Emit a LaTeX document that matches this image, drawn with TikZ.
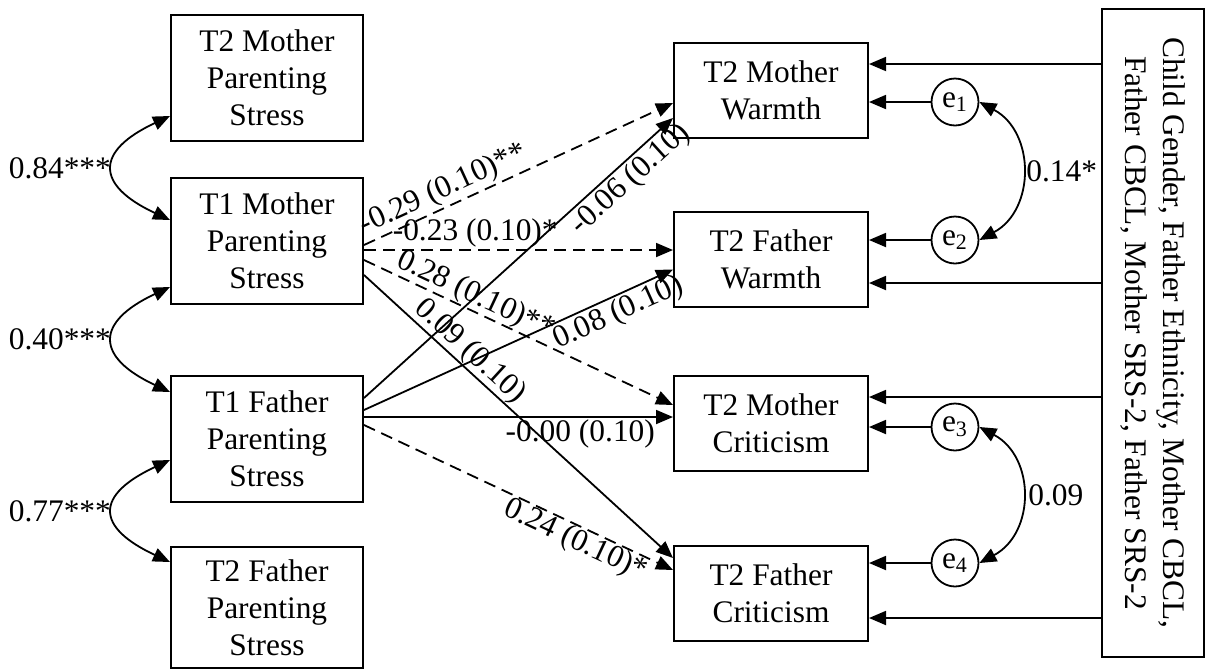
\documentclass[tikz,border=0pt]{standalone}
\usepackage{fontspec}
\setmainfont{Liberation Serif}
\usetikzlibrary{arrows.meta,calc}
\begin{document}
\begin{tikzpicture}[x=0.5pt,y=-0.5pt,
  font=\fontsize{15.7}{18.5}\selectfont,
  box/.style={draw,line width=1pt,align=center,inner sep=0pt},
  lbox/.style={box,minimum width=96pt,minimum height=63pt},
  rbox/.style={box,minimum width=97pt,minimum height=47.5pt},
  err/.style={draw,circle,line width=0.9pt,minimum size=23.5pt,inner sep=0pt},
  tip/.tip={Triangle[length=8.5pt,width=7pt]},
  arr/.style={-tip,line width=0.9pt},
  dsh/.style={arr,dash pattern=on 6pt off 3.5pt},
  dbl/.style={tip-tip,line width=0.9pt},
  lab/.style={inner sep=1pt,sloped}
]
\useasboundingbox (0,0) rectangle (1206,670);

% left boxes
\node[lbox] (LA) at (267,77.5) {T2 Mother\\Parenting\\Stress};
\node[lbox] (LB) at (267,241) {T1 Mother\\Parenting\\Stress};
\node[lbox] (LC) at (267,439) {T1 Father\\Parenting\\Stress};
\node[lbox,minimum height=60.5pt] (LD) at (267,607.5) {T2 Father\\Parenting\\Stress};

% right boxes
\node[rbox] (RA) at (771,90) {T2 Mother\\Warmth};
\node[rbox] (RB) at (771,259.5) {T2 Father\\Warmth};
\node[rbox] (RC) at (771,423.5) {T2 Mother\\Criticism};
\node[rbox] (RD) at (771,593.5) {T2 Father\\Criticism};

% covariates box
\node[draw,line width=1pt,rotate=-90,minimum width=324pt,minimum height=51pt,
      align=center,inner sep=0pt,font=\fontsize{15.7}{19}\selectfont] (cov) at (1153,333)
  {Child Gender, Father Ethnicity, Mother CBCL,\\Father CBCL, Mother SRS-2, Father SRS-2};

% error terms
\node[err] (e1) at (955,102) {e\textsubscript{1}};
\node[err] (e2) at (955,240) {e\textsubscript{2}};
\node[err] (e3) at (955,427) {e\textsubscript{3}};
\node[err] (e4) at (955,563) {e\textsubscript{4}};

\draw[arr] (e1.west) -- (e1.west -| RA.east);
\draw[arr] (e2.west) -- (e2.west -| RB.east);
\draw[arr] (e3.west) -- (e3.west -| RC.east);
\draw[arr] (e4.west) -- (e4.west -| RD.east);

% covariate arrows
\coordinate (c1) at (0,64);
\coordinate (c2) at (0,283);
\coordinate (c3) at (0,397);
\coordinate (c4) at (0,618);
\draw[arr] (cov.south |- c1) -- (RA.east |- c1);
\draw[arr] (cov.south |- c2) -- (RB.east |- c2);
\draw[arr] (cov.south |- c3) -- (RC.east |- c3);
\draw[arr] (cov.south |- c4) -- (RD.east |- c4);

% residual covariances
\draw[dbl] (e1.east) .. controls +(56,30) and +(56,-30) .. (e2.east)
  node[midway,right,inner sep=2pt] {0.14*};
\draw[dbl] (e3.east) .. controls +(56,30) and +(56,-30) .. (e4.east)
  node[midway,right,inner sep=3pt] {0.09};

% left covariances
\draw[dbl] ([yshift=-19.25pt]LA.west) .. controls +(-75,35) and +(-75,-35) .. ([yshift=10.5pt]LB.west)
  node[midway,left,inner sep=1pt] {0.84***};
\draw[dbl] ([yshift=-23pt]LB.west) .. controls +(-75,35) and +(-75,-35) .. ([yshift=23.5pt]LC.west)
  node[midway,left,inner sep=1pt] {0.40***};
\draw[dbl] ([yshift=-10.5pt]LC.west) .. controls +(-75,35) and +(-75,-35) .. ([yshift=22.75pt]LD.west)
  node[midway,left,inner sep=1pt] {0.77***};

% paths from T1 Mother
\draw[dsh] ([yshift=-2pt]LB.east) -- node[lab,above,pos=0.28] {-0.29 (0.10)**} ([yshift=-6.5pt]RA.west);
\draw[dsh] ([yshift=-4.5pt]LB.east) -- node[above,pos=0.36,inner sep=1pt] {-0.23 (0.10)*} ([yshift=4.75pt]RB.west);
\draw[dsh] ([yshift=-9.5pt]LB.east) -- node[lab,above,pos=0.34,inner sep=0pt] {0.28 (0.10)**} ([yshift=9.25pt]RC.west);
\draw[arr] ([yshift=-17pt]LB.east) -- node[lab,above,pos=0.31,inner sep=0pt] {0.09 (0.10)} ([yshift=17.75pt]RD.west);

% paths from T1 Father
\draw[arr] ([yshift=20.5pt]LC.east) -- node[lab,below,pos=0.825] {-0.06 (0.10)} ([yshift=-14pt]RA.west);
\draw[arr] ([yshift=14.5pt]LC.east) -- node[lab,below,pos=0.80] {0.08 (0.10)} ([yshift=-5pt]RB.west);
\draw[arr] ([yshift=11pt]LC.east) -- node[below,pos=0.70,inner sep=1pt] {-0.00 (0.10)} ([yshift=3.25pt]RC.west);
\draw[dsh] ([yshift=7pt]LC.east) -- node[lab,below,pos=0.705,inner sep=0pt] {0.24 (0.10)*} ([yshift=11.75pt]RD.west);
\end{tikzpicture}
\end{document}
